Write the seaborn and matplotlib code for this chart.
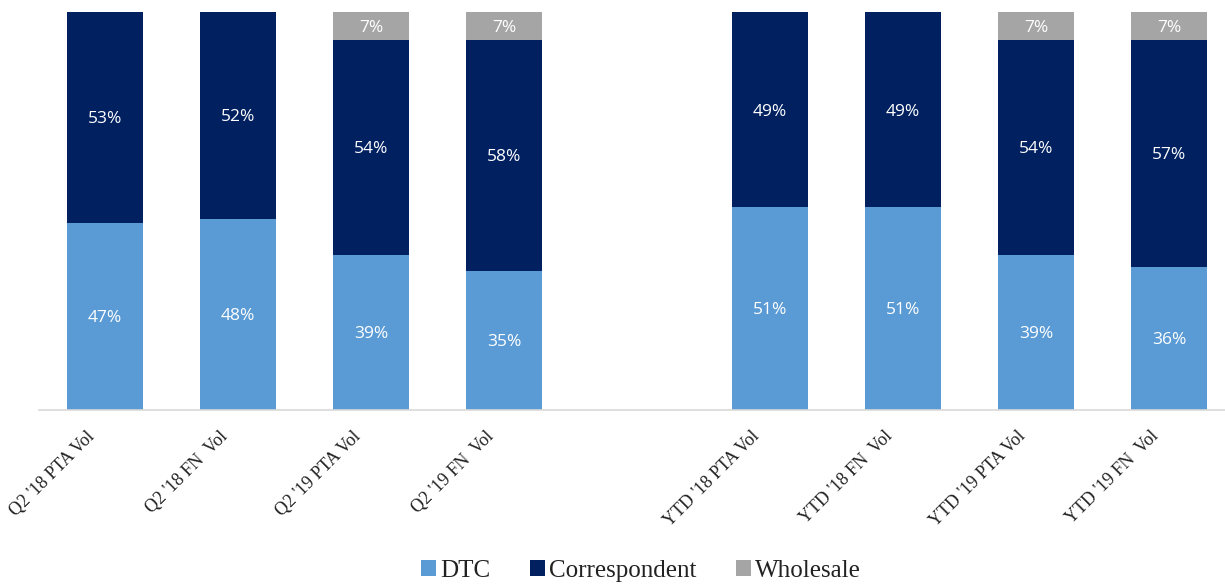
import matplotlib
matplotlib.use("Agg")
import matplotlib.pyplot as plt
import matplotlib.transforms as mtransforms
from matplotlib.patches import Patch
import seaborn as sns
import pandas as pd

categories = ["Q2 '18 PTA Vol", "Q2 '18 FN  Vol", "Q2 '19 PTA Vol", "Q2 '19 FN  Vol", " ",
              "YTD '18 PTA Vol", "YTD '18 FN  Vol", "YTD '19 PTA Vol", "YTD '19 FN  Vol"]
dtc = [47, 48, 39, 35, 0, 51, 51, 39, 36]
correspondent = [53, 52, 54, 58, 0, 49, 49, 54, 57]
wholesale = [0, 0, 7, 7, 0, 0, 0, 7, 7]

series_names = ["DTC", "Correspondent", "Wholesale"]
colors = ["#5B9BD5", "#002060", "#A5A5A5"]

sns.set_theme(style="white")

df = pd.DataFrame({"cat": categories, "DTC": dtc,
                   "Correspondent": correspondent, "Wholesale": wholesale})

fig = plt.figure(figsize=(12.25, 5.87), dpi=100)
ax = fig.add_axes([38.5 / 1225, 1 - 410 / 587, 1 - 38.5 / 1225, (410 - 12) / 587])

bottoms = [0] * len(categories)
for name, col in zip(series_names, colors):
    vals = df[name].tolist()
    sns.barplot(data=df, x="cat", y=name, order=categories, color=col,
                width=0.57, bottom=bottoms, ax=ax, saturation=1, linewidth=0)
    for i, v in enumerate(vals):
        if v > 0:
            ax.text(i, bottoms[i] + v / 2 - 0.5, f"{v}%", ha="center", va="center",
                    color="white", fontsize=12.5, family=["Open Sans", "DejaVu Sans"])
    bottoms = [b + v for b, v in zip(bottoms, vals)]

ax.set_ylim(0, 100)
ax.set_xlim(-0.5, 8.42)
ax.set_xlabel("")
ax.set_ylabel("")
ax.set_yticks([])
for s in ["top", "right", "left"]:
    ax.spines[s].set_visible(False)
ax.spines["bottom"].set_color("#D9D9D9")
ax.spines["bottom"].set_linewidth(1.2)
ax.tick_params(axis="x", length=0, pad=0)

ax.set_xticks(range(len(categories)))
ax.set_xticklabels(categories, rotation=45, ha="right", va="center",
                   rotation_mode="anchor", fontsize=13, family="Liberation Serif",
                   color="#222222")
offset = mtransforms.ScaledTranslation(-13 / 100, -24 / 100, fig.dpi_scale_trans)
for lbl in ax.get_xticklabels():
    lbl.set_transform(lbl.get_transform() + offset)

handles = [Patch(facecolor=c, edgecolor="none", label=n) for n, c in zip(series_names, colors)]
fig.legend(handles=handles, loc="center", bbox_to_anchor=(641 / 1225, 1 - 571 / 587),
           ncol=3, frameon=False, prop={"family": "Liberation Serif", "size": 18},
           handlelength=0.6, handleheight=0.6, handletextpad=0.15, columnspacing=1.6,
           labelcolor="#222222")

fig.savefig("out.png", dpi=100)
